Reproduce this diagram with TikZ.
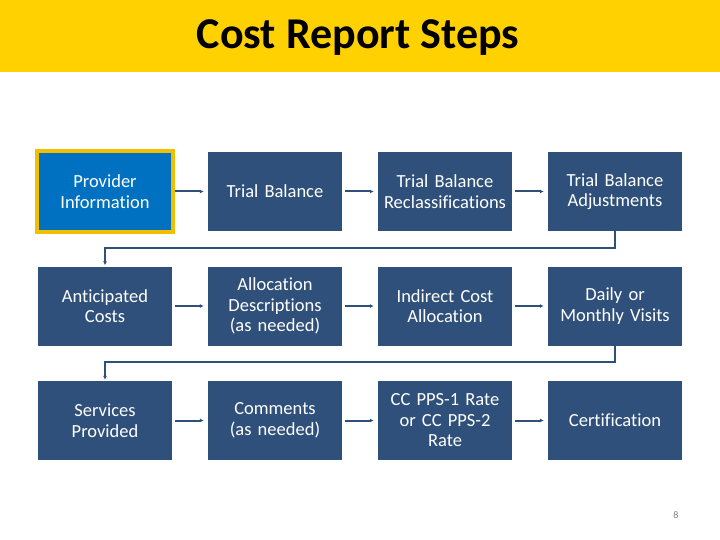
\documentclass[tikz,border=0pt]{standalone}
\usepackage{fontspec}
\setmainfont{Carlito}[Ligatures=NoCommon]
\usetikzlibrary{arrows.meta}
\definecolor{banner}{RGB}{255,209,0}
\definecolor{boxblue}{RGB}{47,80,122}
\definecolor{provblue}{RGB}{0,112,192}
\definecolor{provedge}{RGB}{242,190,0}
\tikzset{
  stepbox/.style={fill=boxblue, text=white, minimum width=134pt, minimum height=79pt,
    inner sep=2pt, align=center, font=\fontsize{18.5}{20.5}\selectfont, text width=130pt},
  provbox/.style={stepbox, fill=provblue, draw=provedge, line width=3.5pt, minimum width=136pt, minimum height=81pt},
  flow/.style={draw=boxblue, line width=2pt, -{Latex[length=4pt,width=4pt]}, shorten >=4pt, shorten <=3pt},
}
\begin{document}
\begin{tikzpicture}[x=1pt,y=-1pt]
\useasboundingbox (0,0) rectangle (720,540);
\fill[white] (0,0) rectangle (720,540);
\fill[banner] (0,0) rectangle (720,72);
\node (title) at (358,38) {\fontsize{44}{48}\selectfont\bfseries Cost Report Steps};
% row 1
\node[provbox] (p1) at (105,191.5) {Provider\\Information};
\node[stepbox] (p2) at (275,191.5) {Trial Balance};
\node[stepbox] (p3) at (445,191.5) {Trial Balance\\Reclassifications};
\node[stepbox] (p4) at (615,191.5) {Trial Balance\\Adjustments};
% row 2
\node[stepbox] (q1) at (105,306) {Anticipated\\Costs};
\node[stepbox] (q2) at (275,306) {Allocation\\Descriptions\\(as needed)};
\node[stepbox] (q3) at (445,306) {Indirect Cost\\Allocation};
\node[stepbox] (q4) at (615,306) {Daily or\\Monthly Visits};
% row 3
\node[stepbox] (r1) at (105,420.5) {Services\\Provided};
\node[stepbox] (r2) at (275,420.5) {Comments\\(as needed)};
\node[stepbox] (r3) at (445,420.5) {CC PPS-1 Rate\\or CC PPS-2\\Rate};
\node[stepbox] (r4) at (615,420.5) {Certification};
% arrows
\draw[flow, shorten <=0pt] (p1) -- (p2);
\draw[flow] (p2) -- (p3);
\draw[flow] (p3) -- (p4);
\draw[flow] (q1) -- (q2);
\draw[flow] (q2) -- (q3);
\draw[flow] (q3) -- (q4);
\draw[flow] (r1) -- (r2);
\draw[flow] (r2) -- (r3);
\draw[flow] (r3) -- (r4);
\draw[flow, shorten <=0pt, shorten >=1pt] (p4.south) |- (105,248) -- (q1.north);
\draw[flow, shorten <=0pt, shorten >=1pt] (q4.south) |- (105,362) -- (r1.north);
\node[text=gray, font=\fontsize{10}{12}\selectfont] (pg) at (676,515) {8};
\end{tikzpicture}
\end{document}
